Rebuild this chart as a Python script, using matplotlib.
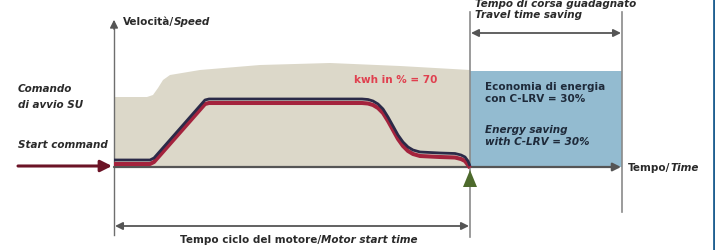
import matplotlib
matplotlib.use("Agg")
import matplotlib.pyplot as plt
from matplotlib.patches import Polygon

plt.rcParams['font.family'] = ['Liberation Sans Narrow', 'DejaVu Sans']

# --- values (pixel frame, y grows downward) ---
axis_x0 = 114          # speed axis / start of cycle
motor_end_x = 470      # end of motor cycle
travel_end_x = 622     # end of travel time saving
time_axis_y = 167

envelope_x = [114, 147, 153, 158, 163, 170, 200, 260, 330, 400, 470]
envelope_y = [97, 97, 95, 88, 80, 75, 70, 65, 63, 66, 70]
saving_top = 71

speed_x = [114, 150, 154, 205, 209, 362, 368, 373, 378, 383, 388, 393, 398,
           403, 408, 413, 420, 440, 455, 461, 465, 468, 470]
speed_dark = [160, 160, 158, 100, 99, 99, 99.5, 101, 104, 109, 117, 126, 135,
              142, 147, 150, 152, 153, 153.5, 155, 157, 161, 166]
speed_red = [164, 164, 162, 104, 103, 103, 103.5, 105, 108, 113, 121, 130, 139,
             146, 151, 154, 156, 157, 157.5, 159, 161, 165, 168]

kwh_label = "kwh in % = 70"
saving_it = "Economia di energia\ncon C-LRV = 30%"
saving_en = "Energy saving\nwith C-LRV = 30%"

fig = plt.figure(figsize=(7.15, 2.5), dpi=100)
ax = fig.add_axes([0, 0, 1, 1])
ax.set_xlim(0, 715)
ax.set_ylim(250, 0)
ax.axis('off')

beige = '#dcd8c9'
blue = '#93bbd0'
grey = '#6e6e6e'

# beige energy area and blue saving area
poly = list(zip(envelope_x, envelope_y)) + [(motor_end_x, time_axis_y), (axis_x0, time_axis_y)]
ax.add_patch(Polygon(poly, closed=True, fc=beige, ec='none', zorder=1))
ax.fill_between([motor_end_x, travel_end_x], saving_top, time_axis_y, color=blue, lw=0, zorder=1)

# speed curves
ax.plot(speed_x, speed_red, color='#a4233d', lw=2.9, solid_capstyle='butt',
        solid_joinstyle='round', zorder=3)
ax.plot(speed_x, speed_dark, color='#2b2a48', lw=2.0, solid_capstyle='butt',
        solid_joinstyle='round', zorder=4)

# axes and guide lines
ax.plot([axis_x0, axis_x0], [235, 28], color=grey, lw=1.0, zorder=2)
ax.annotate('', xy=(axis_x0, 17), xytext=(axis_x0, 32),
            arrowprops=dict(arrowstyle='-|>', color='#555555', lw=1.0,
                            mutation_scale=12), zorder=5)
ax.annotate('', xy=(621, time_axis_y), xytext=(axis_x0, time_axis_y),
            arrowprops=dict(arrowstyle='-|>', color='#555555', lw=1.6,
                            mutation_scale=12, shrinkA=0, shrinkB=0), zorder=2)
ax.plot([motor_end_x, motor_end_x], [12, 237], color='#8a8a8a', lw=1.2, zorder=2)
ax.plot([travel_end_x, travel_end_x], [12, 212], color='#8a8a8a', lw=1.2, zorder=2)

# start command arrow
ax.annotate('', xy=(112, 166), xytext=(18, 166),
            arrowprops=dict(arrowstyle='-|>', color='#6b1326', lw=2.2,
                            mutation_scale=17, shrinkA=0, shrinkB=0), zorder=5)

# end-of-cycle marker
ax.add_patch(Polygon([(463, 187), (477, 187), (470, 170)], closed=True,
                     fc='#4d6a2c', ec='none', zorder=5))

# dimension arrows
ax.annotate('', xy=(axis_x0 + 1, 226), xytext=(motor_end_x - 1, 226),
            arrowprops=dict(arrowstyle='<|-|>', color='#555555', lw=1.3,
                            mutation_scale=11, shrinkA=0, shrinkB=0))
ax.annotate('', xy=(motor_end_x + 1, 33), xytext=(travel_end_x - 1, 33),
            arrowprops=dict(arrowstyle='<|-|>', color='#555555', lw=1.3,
                            mutation_scale=11, shrinkA=0, shrinkB=0))

# right blue border
ax.plot([713.5, 713.5], [0, 250], color='#1f5f90', lw=2.0)

txt = '#2a2a2a'
fs = 7.5


def two_part(x, y, a, b, size=fs, ha='left'):
    t1 = ax.text(x, y, a, fontsize=size, fontweight='bold', color=txt,
                 va='center', ha=ha)
    ax.annotate(b, xy=(1, 0), xycoords=t1, fontsize=size, fontweight='bold',
                style='italic', color=txt, va='bottom', ha='left')
    return t1


two_part(123, 22, 'Velocità/', 'Speed')
two_part(628, 168, 'Tempo/', 'Time')
two_part(180, 240, 'Tempo ciclo del motore/', 'Motor start time')

ax.text(18, 97, 'Comando\ndi avvio SU', fontsize=fs, fontweight='bold',
        style='italic', color=txt, va='center', linespacing=1.75)
ax.text(18, 145, 'Start command', fontsize=fs, fontweight='bold',
        style='italic', color=txt, va='center')
ax.text(354, 80, kwh_label, fontsize=fs, fontweight='bold', color='#e0404f',
        va='center')
ax.text(485, 93, saving_it, fontsize=fs, fontweight='bold', color='#1e2a3a',
        va='center', linespacing=1.35)
ax.text(485, 136, saving_en, fontsize=fs, fontweight='bold', style='italic',
        color='#1e2a3a', va='center', linespacing=1.35)
ax.text(475, 15, 'Travel time saving', fontsize=fs, fontweight='bold',
        style='italic', color=txt, va='center')
ax.text(475, 4, 'Tempo di corsa guadagnato', fontsize=fs, fontweight='bold',
        style='italic', color=txt, va='center')

fig.savefig('out.png', dpi=100)
